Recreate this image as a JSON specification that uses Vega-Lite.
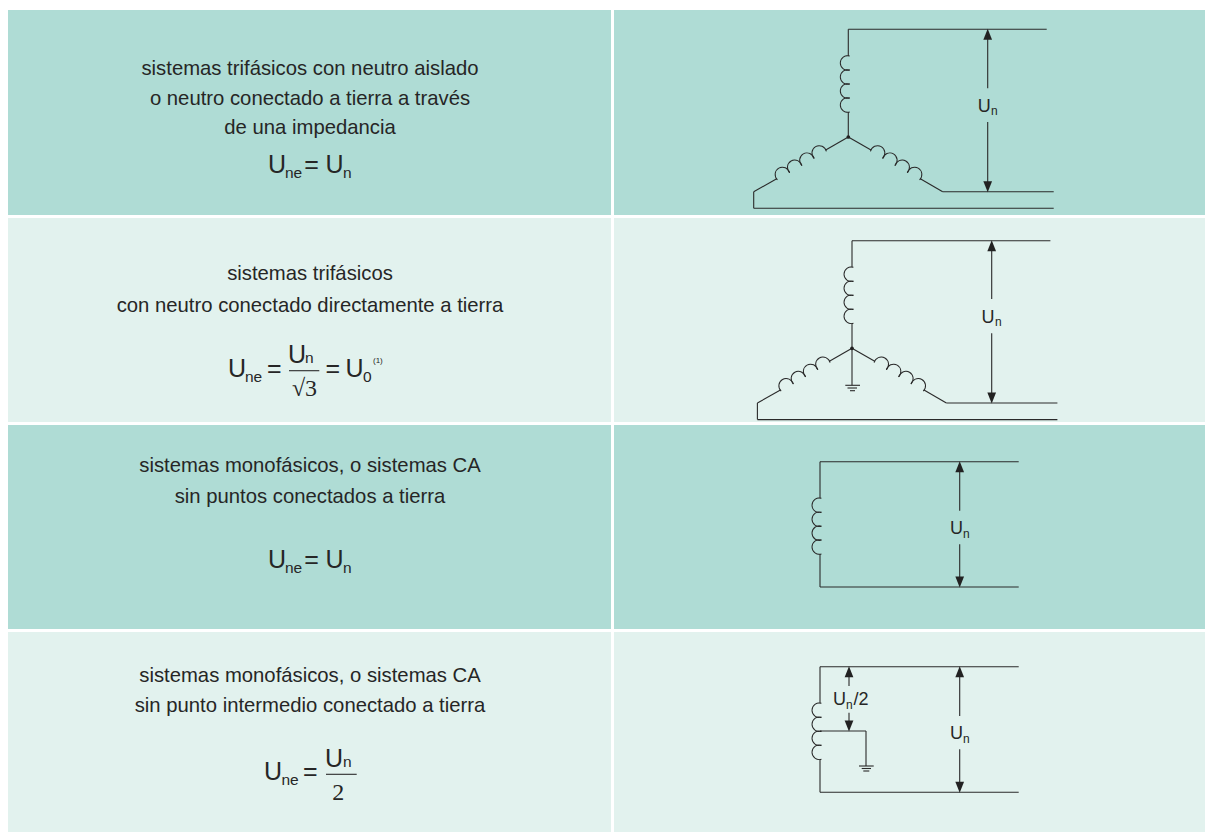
{
"$schema":"https://vega.github.io/schema/vega-lite/v6.json",
"width":1205,"height":832,"padding":0,"autosize":{"type":"none"},"background":"#ffffff",
"view":{"stroke":null},
"datasets":{
"cells":[
{"row":"1 izq","x":8,"x2":611,"y":10,"y2":215,"tono":"oscuro"},
{"row":"1 der","x":614,"x2":1205,"y":10,"y2":215,"tono":"oscuro"},
{"row":"2 izq","x":8,"x2":611,"y":218,"y2":422,"tono":"claro"},
{"row":"2 der","x":614,"x2":1205,"y":218,"y2":422,"tono":"claro"},
{"row":"3 izq","x":8,"x2":611,"y":425,"y2":629,"tono":"oscuro"},
{"row":"3 der","x":614,"x2":1205,"y":425,"y2":629,"tono":"oscuro"},
{"row":"4 izq","x":8,"x2":611,"y":632,"y2":832,"tono":"claro"},
{"row":"4 der","x":614,"x2":1205,"y":632,"y2":832,"tono":"claro"}
],
"wires":[
{"x":848.3,"x2":1046.7,"y":29.3,"y2":29.3},{"x":848.3,"x2":848.3,"y":29.3,"y2":56},{"x":848.3,"x2":848.3,"y":112,"y2":137},
{"x":848.3,"x2":825.7,"y":137,"y2":150},{"x":776.7,"x2":753.7,"y":178.7,"y2":191.7},{"x":753.7,"x2":753.7,"y":191.7,"y2":208.3},{"x":753.7,"x2":1053.7,"y":208.3,"y2":208.3},
{"x":848.3,"x2":871,"y":137,"y2":150},{"x":920.3,"x2":942.7,"y":178.7,"y2":191.7},{"x":942.7,"x2":1053.7,"y":191.7,"y2":191.7},
{"x":987.7,"x2":987.7,"y":35,"y2":88.3},{"x":987.7,"x2":987.7,"y":122,"y2":186},

{"x":852,"x2":1050.4,"y":240.7,"y2":240.7},{"x":852,"x2":852,"y":240.7,"y2":267.3},{"x":852,"x2":852,"y":323.3,"y2":385.3},
{"x":852,"x2":829.4,"y":348.3,"y2":361.3},{"x":780.4,"x2":757.4,"y":390,"y2":403},{"x":757.4,"x2":757.4,"y":403,"y2":419.6},{"x":757.4,"x2":1057.4,"y":419.6,"y2":419.6},
{"x":852,"x2":874.7,"y":348.3,"y2":361.3},{"x":924,"x2":946.4,"y":390,"y2":403},{"x":946.4,"x2":1057.4,"y":403,"y2":403},
{"x":991.7,"x2":991.7,"y":246,"y2":299},{"x":991.7,"x2":991.7,"y":333.3,"y2":397},
{"x":845.3,"x2":860,"y":385.3,"y2":385.3},{"x":847.5,"x2":857,"y":388,"y2":388},{"x":850,"x2":855,"y":390.7,"y2":390.7},

{"x":820,"x2":1018.7,"y":461.7,"y2":461.7},{"x":820,"x2":820,"y":461.7,"y2":498.3},{"x":820,"x2":820,"y":554,"y2":587},{"x":820,"x2":1018.7,"y":587,"y2":587},
{"x":959.7,"x2":959.7,"y":467,"y2":510.7},{"x":959.7,"x2":959.7,"y":544.3,"y2":581},

{"x":820,"x2":1018.7,"y":666.7,"y2":666.7},{"x":820,"x2":820,"y":666.7,"y2":703.3},{"x":820,"x2":820,"y":759.3,"y2":792.3},{"x":820,"x2":1018.7,"y":792.3,"y2":792.3},
{"x":820,"x2":866,"y":731,"y2":731},{"x":866,"x2":866,"y":731,"y2":766},
{"x":859,"x2":873.7,"y":766,"y2":766},{"x":861.7,"x2":871,"y":768.5,"y2":768.5},{"x":863.3,"x2":869.3,"y":771,"y2":771},
{"x":849,"x2":849,"y":672,"y2":686},{"x":849,"x2":849,"y":712.7,"y2":725},
{"x":959.7,"x2":959.7,"y":672,"y2":716},{"x":959.7,"x2":959.7,"y":749.3,"y2":787},

{"x":289,"x2":319.3,"y":370.7,"y2":370.7},{"x":326,"x2":356.7,"y":774.3,"y2":774.3}
],
"coils":[
{"x":847.6,"y":63,"a":2.84,"b":6.58},{"x":847.6,"y":77,"a":2.84,"b":6.58},{"x":847.6,"y":91,"a":2.84,"b":6.58},{"x":847.6,"y":105,"a":2.84,"b":6.58},
{"x":819.25,"y":153,"a":-2.39,"b":1.35},{"x":806.95,"y":160.2,"a":-2.39,"b":1.35},{"x":794.75,"y":167.3,"a":-2.39,"b":1.35},{"x":782.45,"y":174.5,"a":-2.39,"b":1.35},
{"x":877.55,"y":153,"a":-1.35,"b":2.39},{"x":889.85,"y":160.2,"a":-1.35,"b":2.39},{"x":902.15,"y":167.3,"a":-1.35,"b":2.39},{"x":914.55,"y":174.5,"a":-1.35,"b":2.39},

{"x":851.3,"y":274.3,"a":2.84,"b":6.58},{"x":851.3,"y":288.3,"a":2.84,"b":6.58},{"x":851.3,"y":302.3,"a":2.84,"b":6.58},{"x":851.3,"y":316.3,"a":2.84,"b":6.58},
{"x":822.95,"y":364.3,"a":-2.39,"b":1.35},{"x":810.65,"y":371.5,"a":-2.39,"b":1.35},{"x":798.45,"y":378.6,"a":-2.39,"b":1.35},{"x":786.15,"y":385.8,"a":-2.39,"b":1.35},
{"x":881.25,"y":364.3,"a":-1.35,"b":2.39},{"x":893.55,"y":371.5,"a":-1.35,"b":2.39},{"x":905.85,"y":378.6,"a":-1.35,"b":2.39},{"x":918.25,"y":385.8,"a":-1.35,"b":2.39},

{"x":819.3,"y":505.3,"a":2.84,"b":6.58},{"x":819.3,"y":519.2,"a":2.84,"b":6.58},{"x":819.3,"y":533.1,"a":2.84,"b":6.58},{"x":819.3,"y":547,"a":2.84,"b":6.58},
{"x":819.3,"y":710.3,"a":2.84,"b":6.58},{"x":819.3,"y":724.3,"a":2.84,"b":6.58},{"x":819.3,"y":738.3,"a":2.84,"b":6.58},{"x":819.3,"y":752.3,"a":2.84,"b":6.58}
],
"heads":[
{"x":987.7,"y":34.3,"dir":"up"},{"x":987.7,"y":186.7,"dir":"down"},
{"x":991.7,"y":245.7,"dir":"up"},{"x":991.7,"y":398,"dir":"down"},
{"x":959.7,"y":466.7,"dir":"up"},{"x":959.7,"y":582,"dir":"down"},
{"x":959.7,"y":671.7,"dir":"up"},{"x":959.7,"y":787.3,"dir":"down"},
{"x":849,"y":671.7,"dir":"up"},{"x":849,"y":726,"dir":"down"}
],
"dots":[{"x":848.3,"y":137},{"x":852,"y":348.3}],
"centered":[
{"t":"sistemas trifásicos con neutro aislado","x":310,"y":74.5,"s":20.3},
{"t":"o neutro conectado a tierra a través","x":310,"y":104.5,"s":20.3},
{"t":"de una impedancia","x":310,"y":133.5,"s":20.3},
{"t":"sistemas trifásicos","x":310,"y":279.5,"s":20.3},
{"t":"con neutro conectado directamente a tierra","x":310,"y":311.5,"s":20.3},
{"t":"sistemas monofásicos, o sistemas CA","x":310,"y":471.5,"s":20.3},
{"t":"sin puntos conectados a tierra","x":310,"y":502.5,"s":20.3},
{"t":"sistemas monofásicos, o sistemas CA","x":310,"y":681.5,"s":20.3},
{"t":"sin punto intermedio conectado a tierra","x":310,"y":711.5,"s":20.3}
],
"serif":[
{"t":"√3","x":304.5,"y":395.7,"s":24},
{"t":"2","x":338.3,"y":800,"s":24}
],
"left":[
{"t":"U","x":268,"y":172.5,"s":25},{"t":"ne","x":285,"y":178,"s":15.5},{"t":"=","x":304.3,"y":172.5,"s":25},{"t":"U","x":325.5,"y":172.5,"s":25},{"t":"n","x":343,"y":178,"s":15.5},
{"t":"U","x":228,"y":376.5,"s":25},{"t":"ne","x":245,"y":382,"s":15.5},{"t":"=","x":267,"y":376.5,"s":25},{"t":"U","x":288,"y":363.3,"s":25},{"t":"n","x":305,"y":363.3,"s":15.5},{"t":"=","x":325.6,"y":376.5,"s":25},{"t":"U","x":345.5,"y":376.5,"s":25},{"t":"0","x":363,"y":382,"s":15.5},{"t":"(1)","x":373,"y":363,"s":8},
{"t":"U","x":268,"y":567.5,"s":25},{"t":"ne","x":285,"y":573,"s":15.5},{"t":"=","x":304.3,"y":567.5,"s":25},{"t":"U","x":325.5,"y":567.5,"s":25},{"t":"n","x":343,"y":573,"s":15.5},
{"t":"U","x":264,"y":779.5,"s":25},{"t":"ne","x":281.5,"y":785,"s":15.5},{"t":"=","x":303,"y":779.5,"s":25},{"t":"U","x":325,"y":766.7,"s":25},{"t":"n","x":343,"y":766.7,"s":15.5},
{"t":"U","x":977.8,"y":111.7,"s":18},{"t":"n","x":991,"y":114.8,"s":12},
{"t":"U","x":981.5,"y":322.7,"s":18},{"t":"n","x":995,"y":326,"s":12},
{"t":"U","x":950,"y":534,"s":18},{"t":"n","x":963,"y":538,"s":12},
{"t":"U","x":950,"y":739.3,"s":18},{"t":"n","x":963,"y":743,"s":12},
{"t":"U","x":833,"y":705.3,"s":18},{"t":"n","x":846,"y":709.3,"s":12},{"t":"/2","x":853.5,"y":705.3,"s":18}
]
},
"encoding":{
"x":{"field":"x","type":"quantitative","scale":{"domain":[0,1205],"nice":false,"zero":false},"axis":null},
"y":{"field":"y","type":"quantitative","scale":{"domain":[0,832],"reverse":true,"nice":false,"zero":false},"axis":null}
},
"layer":[
{"data":{"name":"cells"},"mark":{"type":"rect"},
 "encoding":{"x2":{"field":"x2"},"y2":{"field":"y2"},"color":{"field":"tono","type":"nominal","scale":{"domain":["oscuro","claro"],"range":["#afdcd5","#e2f2ee"]},"legend":null}}},
{"data":{"name":"wires"},"mark":{"type":"rule","color":"#2a2a2a","strokeWidth":1.1},
 "encoding":{"x2":{"field":"x2"},"y2":{"field":"y2"}}},
{"data":{"name":"coils"},"mark":{"type":"arc","innerRadius":6.8,"outerRadius":7.8,"color":"#2a2a2a"},
 "encoding":{"theta":{"field":"a","type":"quantitative","scale":null,"stack":null},"theta2":{"field":"b"}}},
{"data":{"name":"heads"},"mark":{"type":"point","filled":true,"opacity":1,"color":"#222222","size":76},
 "encoding":{"shape":{"field":"dir","type":"nominal","scale":{"domain":["up","down"],"range":["M0,-1.25L-1,1.25L1,1.25Z","M0,1.25L-1,-1.25L1,-1.25Z"]},"legend":null}}},
{"data":{"name":"dots"},"mark":{"type":"point","filled":true,"opacity":1,"color":"#222222","size":14,"shape":"circle"}},
{"data":{"name":"centered"},"mark":{"type":"text","font":"Liberation Sans","align":"center","baseline":"alphabetic","color":"#262626"},
 "encoding":{"text":{"field":"t"},"size":{"field":"s","type":"quantitative","scale":null}}},
{"data":{"name":"serif"},"mark":{"type":"text","font":"Liberation Serif","align":"center","baseline":"alphabetic","color":"#262626"},
 "encoding":{"text":{"field":"t"},"size":{"field":"s","type":"quantitative","scale":null}}},
{"data":{"name":"left"},"mark":{"type":"text","font":"Liberation Sans","align":"left","baseline":"alphabetic","color":"#262626"},
 "encoding":{"text":{"field":"t"},"size":{"field":"s","type":"quantitative","scale":null}}}
]
}
